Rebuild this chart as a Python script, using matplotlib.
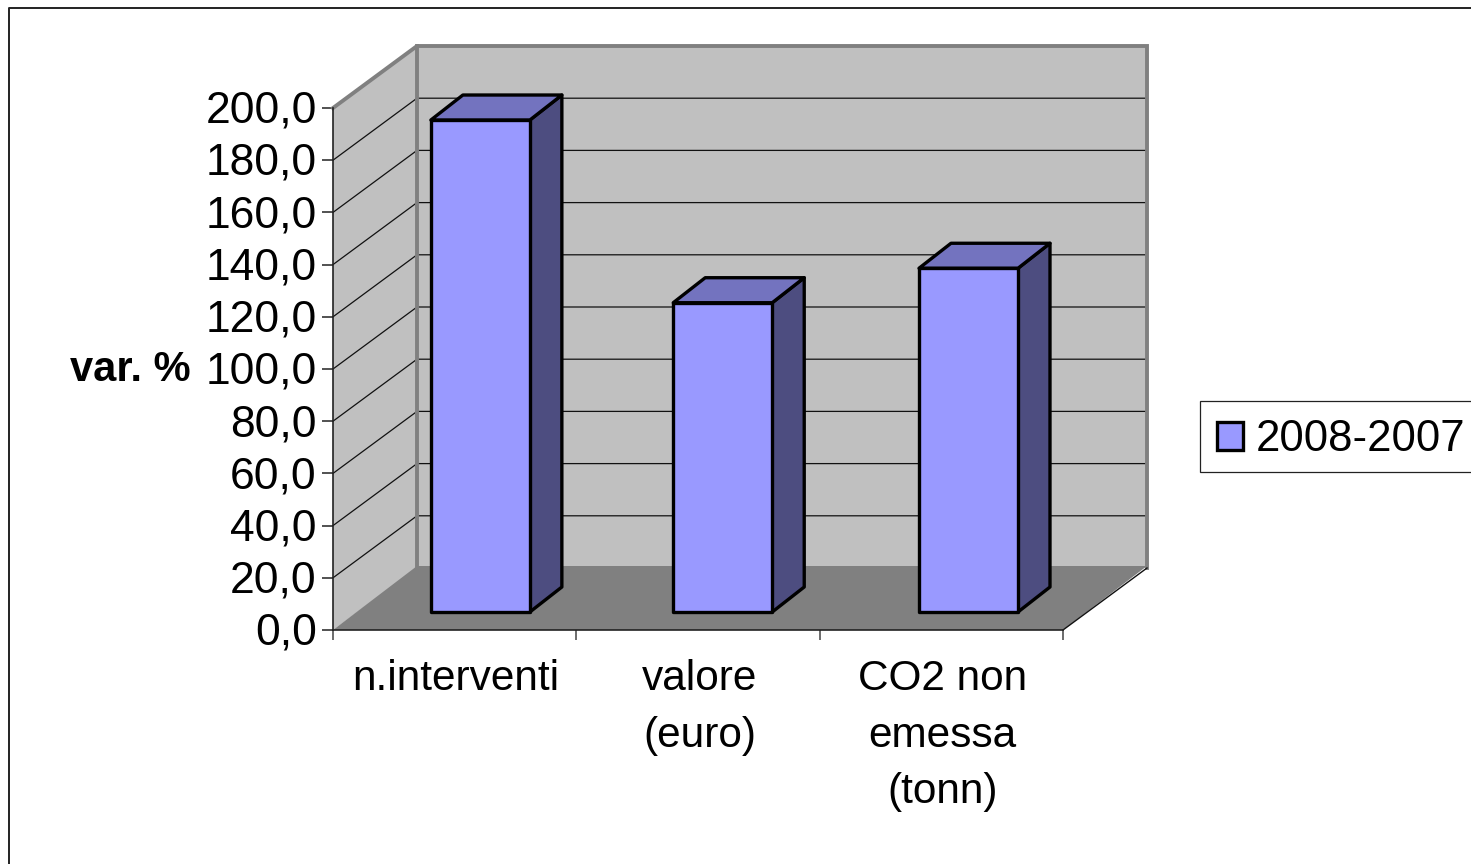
import matplotlib
matplotlib.use('Agg')
import matplotlib.pyplot as plt
from matplotlib.lines import Line2D
from matplotlib.patches import Patch, Polygon, Rectangle
from matplotlib.transforms import ScaledTranslation

plt.rcParams['font.family'] = ['Liberation Sans', 'DejaVu Sans']

categorie = ['n.interventi', 'valore\n(euro)', 'CO2 non\nemessa\n(tonn)']
variazione = [188.5, 118.5, 131.7]
serie = '2008-2007'
tacche_y = [0, 20, 40, 60, 80, 100, 120, 140, 160, 180, 200]

W, H = 1471, 864
fig = plt.figure(figsize=(W / 100, H / 100), dpi=100, facecolor='white')
# piano frontale del grafico, in pixel: x 333-1063, y 630-108
ax = fig.add_axes([333 / W, 1 - 630 / H, 730 / W, 522 / H])
ax.set_xlim(0, 3)
ax.set_ylim(0, 200)
ax.patch.set_alpha(0)

# conversione pixel -> unita' dei dati per la finta prospettiva
px_x = 3 / 730
px_y = 200 / 522
prof_x = 84 * px_x
prof_y = 62 * px_y
prof_pav = 64 * px_y


def poligono(punti, colore, bordo='none', lw=0.0, z=1):
    ax.add_patch(Polygon(punti, closed=True, facecolor=colore, edgecolor=bordo,
                         linewidth=lw, zorder=z, clip_on=False, joinstyle='round'))


# pareti e pavimento
poligono([(0, 0), (prof_x, prof_y), (prof_x, 200 + prof_y), (0, 200)], '#C0C0C0', z=1)
poligono([(prof_x, prof_y), (3 + prof_x, prof_y), (3 + prof_x, 200 + prof_y), (prof_x, 200 + prof_y)],
         '#C0C0C0', z=1)
poligono([(0, 0), (3, 0), (3 + prof_x, prof_pav), (prof_x, prof_pav)], '#808080', z=1)

# griglia
for v in tacche_y[1:-1]:
    ax.plot([0, prof_x, 3 + prof_x], [v, v + prof_y, v + prof_y], color='#111111', lw=0.9,
            zorder=2, clip_on=False)

# bordi grigi delle pareti
ax.plot([0, prof_x, 3 + prof_x, 3 + prof_x], [200, 200 + prof_y, 200 + prof_y, prof_y],
        color='#808080', lw=2.8, zorder=3, clip_on=False, solid_joinstyle='miter')
ax.plot([prof_x, prof_x], [prof_pav, 200 + prof_y], color='#808080', lw=2.8, zorder=3, clip_on=False)
ax.plot([3, 3 + prof_x], [0, prof_y], color='#111111', lw=1.0, zorder=3, clip_on=False)

# barre
larg = 99 * px_x
rialzo_x = 24 * px_x
rialzo_y = 18 * px_y
dx = 32 * px_x
dy = 25 * px_y
lw_barra = 2.4
centri = [0.507, 1.503, 2.513]
for c, v in zip(centri, variazione):
    x0 = c - larg / 2 + rialzo_x
    x1 = x0 + larg
    y0 = rialzo_y
    y1 = y0 + v
    poligono([(x1, y0), (x1 + dx, y0 + dy), (x1 + dx, y1 + dy), (x1, y1)], '#4D4D80', 'black', lw_barra, 4)
    poligono([(x0, y1), (x1, y1), (x1 + dx, y1 + dy), (x0 + dx, y1 + dy)], '#7373BF', 'black', lw_barra, 4)
    poligono([(x0, y0), (x1, y0), (x1, y1), (x0, y1)], '#9999FF', 'black', lw_barra, 5)

# assi
for lato in ['top', 'right']:
    ax.spines[lato].set_visible(False)
for lato in ['left', 'bottom']:
    ax.spines[lato].set_color('#222222')
    ax.spines[lato].set_linewidth(1.2)
    ax.spines[lato].set_zorder(6)
ax.set_yticks(tacche_y)
ax.set_yticklabels([f'{v:.1f}'.replace('.', ',') for v in tacche_y], fontsize=32, color='black')
ax.tick_params(axis='y', length=8, width=1.1, color='#222222', pad=3.7)
su = ScaledTranslation(0, 0.012, fig.dpi_scale_trans)
for lab in ax.get_yticklabels():
    lab.set_transform(lab.get_transform() + su)
ax.set_xticks([0, 1, 2, 3])
ax.set_xticklabels([])
ax.tick_params(axis='x', length=7, width=1.1, color='#444444')
for i, nome in enumerate(categorie):
    ax.annotate(nome, xy=(i + 0.5, 0), xycoords='data', xytext=(1, -21), textcoords='offset points',
                ha='center', va='top', fontsize=30.5, linespacing=1.53, annotation_clip=False)

fig.text(130 / W, 1 - 370 / H, 'var. %', fontsize=30, fontweight='bold', ha='center', va='center')

# legenda, tagliata dal bordo destro come nell'originale
fig.add_artist(Rectangle((1200 / W, 1 - 472 / H), 300 / W, 71 / H, facecolor='white', edgecolor='#222222',
                         linewidth=0.9, transform=fig.transFigure))
leg = fig.legend(handles=[Patch(facecolor='#9999FF', edgecolor='black', linewidth=2.4, label=serie)],
                 loc='lower left', bbox_to_anchor=(1200 / W, 1 - 477 / H), bbox_transform=fig.transFigure,
                 fontsize=31.5, frameon=False, handlelength=0.6, handleheight=0.6, handletextpad=0.3,
                 borderpad=0.38, borderaxespad=0)

# cornice dell'area del grafico
fig.add_artist(Line2D([9 / W, 9 / W, 1], [0, 1 - 8 / H, 1 - 8 / H], color='#222222', lw=1.4,
                      transform=fig.transFigure))

fig.savefig('out.png', dpi=100)
